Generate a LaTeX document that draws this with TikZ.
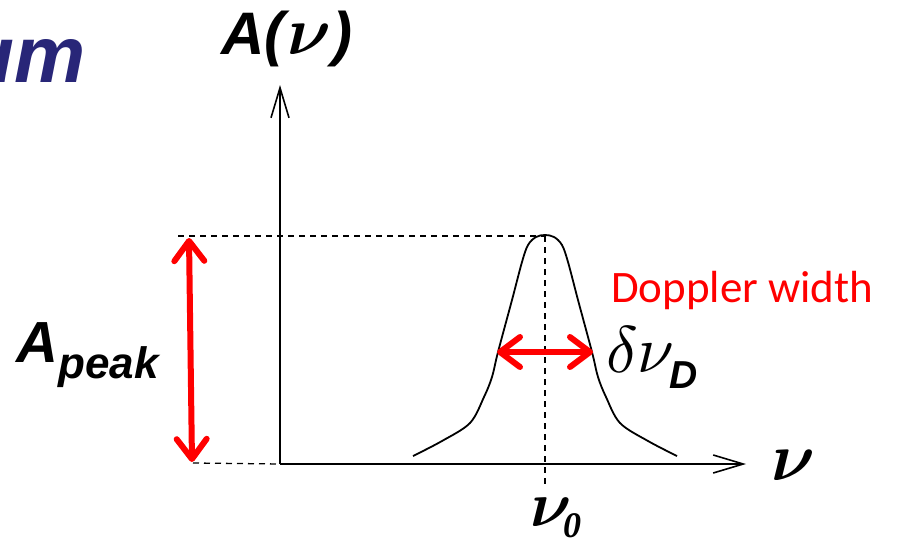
\documentclass[tikz,border=0pt]{standalone}
\usepackage{bm}
\usepackage{fontspec}
\setmainfont{Liberation Sans}
\newfontfamily\serifface{Liberation Serif}
\newfontfamily\calib{Carlito}
\usetikzlibrary{arrows.meta}
\definecolor{titleblue}{RGB}{40,38,120}
\definecolor{pureRed}{RGB}{255,0,0}
\newcommand{\bignu}[1]{\scalebox{#1}{\fontsize{10}{12}\selectfont$\bm{\nu}$}}
\tikzset{
  axisline/.style={line width=1.6pt, -{Straight Barb[length=30pt,width=18pt,line width=1.6pt]}},
  guide/.style={line width=1.3pt, dash pattern=on 6pt off 5pt},
  redarrow/.style={pureRed, line width=6pt, {Straight Barb[round,length=20pt,width=30pt]}-{Straight Barb[round,length=20pt,width=30pt]}},
  profile/.style={line width=1.8pt},
  lbl/.style={inner sep=0pt, anchor=base west}
}
\begin{document}
\begin{tikzpicture}[x=1pt,y=-1pt]
\useasboundingbox (0,0) rectangle (898,541);
% partial title
\node[lbl, text=titleblue, font=\fontsize{80}{86}\selectfont\bfseries\itshape] (title) at (-35,82) {um};
% key points
\coordinate (orig) at (280,464);
\coordinate (ytop) at (280,85);
\coordinate (xend) at (746,464);
\coordinate (peak) at (545,236);
\coordinate (dl) at (178,236);
\coordinate (bl) at (193,463);
\coordinate (vb) at (545,486);
% guides
\draw[guide] (dl) -- (peak);
\draw[guide] (bl) -- (orig);
\draw[guide] (peak) -- (vb);
% axes
\draw[axisline] (orig) -- (ytop);
\draw[axisline] (orig) -- (xend);
% profile
\draw[profile] plot[smooth, tension=0.55] coordinates {(413,456) (442,441) (470,423) (484,397) (492,377) (498,352) (512,300) (522,262) (528,245) (536,237) (545,235) (554,237) (562,245) (568,262) (578,300) (592,352) (598,377) (606,397) (620,423) (648,441) (677,456)};
% red arrows
\coordinate (ra1) at (189,238);
\coordinate (ra2) at (192,462);
\draw[redarrow] (ra1) -- (ra2);
\coordinate (ha1) at (497,352);
\coordinate (ha2) at (593,352);
\draw[redarrow] (ha1) -- (ha2);
% labels
\node[lbl, font=\fontsize{60}{64}\selectfont\bfseries\itshape] (alabel) at (221,54) {A(\kern3pt\bignu{6.8}\kern1pt)};
\node[lbl, font=\fontsize{58}{64}\selectfont\bfseries\itshape] (apeak) at (16,362) {A};
\node[lbl, font=\fontsize{44}{48}\selectfont\bfseries\itshape] (apeaksub) at (58,378) {peak};
\node[lbl, text=pureRed, font=\fontsize{45}{50}\selectfont\calib] (doppler) at (611,302) {Doppler width};
\node[lbl] (dnu) at (606,372) {\scalebox{6.6}{$\delta\nu$}};
\node[lbl, font=\fontsize{39}{44}\selectfont\bfseries\itshape] (dsub) at (669,388) {D};
\node[lbl] (nux) at (771,480) {\bignu{6.8}};
\node[lbl] (nu0) at (530,526) {\bignu{6.4}};
\node[lbl, font=\fontsize{36}{40}\selectfont\serifface\bfseries\itshape] (nu0sub) at (563,537) {0};
\end{tikzpicture}
\end{document}
